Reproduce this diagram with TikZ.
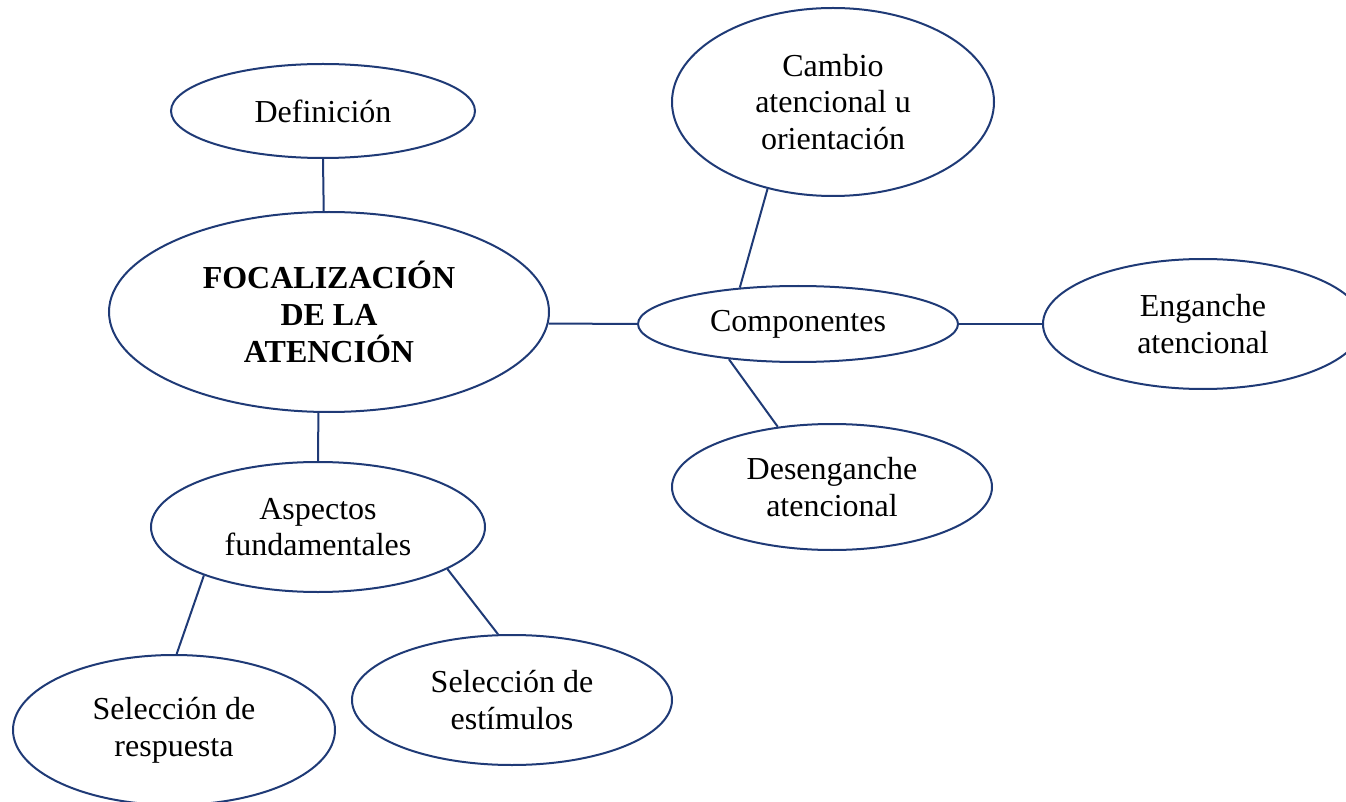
\documentclass[tikz,border=0pt]{standalone}
\usepackage{fontspec}
\setmainfont{Liberation Serif}
\usetikzlibrary{shapes.geometric}
\definecolor{navy}{HTML}{1F3A76}
\begin{document}
\begin{tikzpicture}[x=0.75pt, y=-0.75pt,
    bubble/.style 2 args={ellipse, draw=navy, line width=1.5pt, inner sep=0pt,
        minimum width=#1*1.5pt, minimum height=#2*1.5pt, align=center,
        font=\fontsize{24}{27.5}\selectfont},
    link/.style={draw=navy, line width=1.5pt}]
    \useasboundingbox (0,0) rectangle (1346,802);
    \node[bubble={220}{100}, font=\fontsize{24}{27.5}\selectfont\bfseries] (focal) at (329,312) {FOCALIZACIÓN\\DE LA\\ATENCIÓN};
    \node[bubble={152}{47}] (def) at (323,111) {Definición};
    \node[bubble={160}{38}] (comp) at (798,324) {Componentes};
    \node[bubble={161}{94}] (cambio) at (833,102) {Cambio\\atencional u\\orientación};
    \node[bubble={160}{65}] (eng) at (1203,324) {Enganche\\atencional};
    \node[bubble={160}{63}] (deseng) at (832,487) {Desenganche\\atencional};
    \node[bubble={167}{65}] (asp) at (318,527) {Aspectos\\fundamentales};
    \node[bubble={161}{75}] (resp) at (174,730) {Selección de\\respuesta};
    \node[bubble={160}{65}] (estim) at (512,700) {Selección de\\estímulos};
    \foreach \a/\b in {def.south/focal.93, focal.-3/comp.west, comp.148/cambio.233,
                       comp.east/eng.west, comp.207/deseng.132, focal.264/asp.north,
                       asp.203/resp.88, asp.342/estim.102}
        \draw[link] (\a) -- (\b);
\end{tikzpicture}
\end{document}
